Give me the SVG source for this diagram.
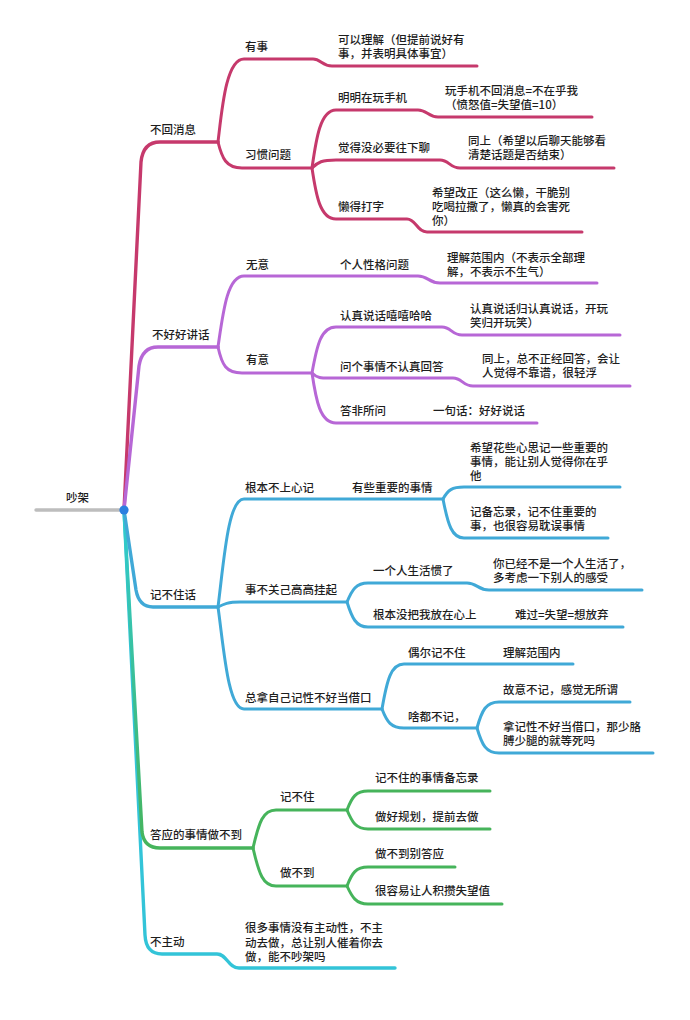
<svg xmlns="http://www.w3.org/2000/svg" width="690" height="1020" viewBox="0 0 690 1020">
<style>
text{font-family:"Noto Sans CJK SC","Noto Sans",sans-serif;font-size:11.5px;font-weight:500;fill:#1e1e1e}
path{fill:none;stroke-linecap:round;stroke-linejoin:round}
.m{stroke-width:3.4}
.s{stroke-width:3}
.r{stroke:#c6396c}
.p{stroke:#b767d6}
.b{stroke:#40a9d7}
.g{stroke:#46b45b}
.c{stroke:#33c4d8}
</style>
<defs>
<linearGradient id="gt" gradientUnits="userSpaceOnUse" x1="0" y1="510" x2="0" y2="848">
<stop offset="0" stop-color="#2fcbd3"/>
<stop offset="1" stop-color="#46b45b"/>
</linearGradient>
</defs>
<rect width="690" height="1020" fill="#ffffff"/>
<g id="connectors">
<path d="M36,510 L124,510" stroke="#bdbdbd" stroke-width="3.4"/>
<path class="m r" d="M124,510 L141,162 Q143,142 160,142 L218,142"/>
<path class="s r" d="M218,142 C222,109 226,59 244,59 L313,59 C321,59 322,66 332,66 L477,66"/>
<path class="s r" d="M218,142 C222,158 226,168 242,168 L312,168"/>
<path class="s r" d="M312,168 C316,140 320,110 336,110 L418,110 C427,110 428,117 438,117 L592,117"/>
<path class="s r" d="M312,168 C318,162 322,160 336,160 L440,160 C449,160 450,168 460,168 L614,168"/>
<path class="s r" d="M312,168 C316,195 320,219 336,219 L407,219 C416,219 417,232 427,232 L582,232"/>
<path class="m p" d="M124,510 L139,366 Q142,347 158,347 L218,347"/>
<path class="s p" d="M218,347 C223,313 227,276 244,276 L418,276 C428,276 429,283 440,283 L597,283"/>
<path class="s p" d="M218,347 C222,365 226,373 242,373 L312,373"/>
<path class="s p" d="M312,373 C317,345 321,327 336,327 L442,327 C451,327 452,335 462,335 L620,335"/>
<path class="s p" d="M312,373 C318,379 322,378 336,378 L453,378 C462,378 463,386 473,386 L630,386"/>
<path class="s p" d="M312,373 C316,400 320,423 336,423 L537,423"/>
<path class="m c" d="M124,510 L145,935 Q146,954 162,954 L217,954 C227,954 228,968 239,968 L395,968"/>
<path class="m" stroke="url(#gt)" d="M124,510 L142,832 Q144,848 160,848 L253,848"/>
<path class="s g" d="M253,848 C259,822 263,810 276,810 L347,810"/>
<path class="s g" d="M347,810 C352,797 356,791 368,791 L490,791"/>
<path class="s g" d="M347,810 C352,822 356,829 368,829 L490,829"/>
<path class="s g" d="M253,848 C259,874 263,886 276,886 L347,886"/>
<path class="s g" d="M347,886 C352,873 356,867 368,867 L455,867"/>
<path class="s g" d="M347,886 C352,897 356,904 368,904 L502,904"/>
<path class="m b" d="M124,510 L136,590 Q139,607 153,607 L218,607"/>
<path class="s b" d="M218,607 C224,560 228,499 244,499 L443,499"/>
<path class="s b" d="M443,499 C448,490 452,487 464,487 L620,487"/>
<path class="s b" d="M443,499 C448,525 452,538 464,538 L608,538"/>
<path class="s b" d="M218,607 C224,604 228,602 240,602 L347,602"/>
<path class="s b" d="M347,602 C352,590 356,583 368,583 L467,583 C477,583 478,590 489,590 L642,590"/>
<path class="s b" d="M347,602 C352,618 356,627 368,627 L623,627"/>
<path class="s b" d="M218,607 C224,650 228,709 244,709 L382,709"/>
<path class="s b" d="M382,709 C387,680 391,664 404,664 L573,664"/>
<path class="s b" d="M382,709 C387,722 391,728 404,728 L477,728"/>
<path class="s b" d="M477,728 C482,710 486,702 499,702 L630,702"/>
<path class="s b" d="M477,728 C482,745 486,753 499,753 L653,753"/>
<circle cx="124" cy="510" r="4.6" fill="#2b7fe0"/>
</g>
<g id="root"><text x="66" y="502">吵架</text></g>
<g id="n-buhuixiaoxi"><text x="150" y="134">不回消息</text></g>
<g id="n-youshi"><text x="245" y="51">有事</text></g>
<g id="n-youshi-1"><text x="338" y="44">可以理解（但提前说好有</text><text x="338" y="58">事，并表明具体事宜）</text></g>
<g id="n-xiguan"><text x="245" y="159">习惯问题</text></g>
<g id="n-wanshouji"><text x="338" y="102">明明在玩手机</text></g>
<g id="n-wanshouji-1"><text x="445" y="95">玩手机不回消息=不在乎我</text><text x="445" y="109">（愤怒值=失望值=10）</text></g>
<g id="n-meibiyao"><text x="338" y="152">觉得没必要往下聊</text></g>
<g id="n-meibiyao-1"><text x="468" y="145">同上（希望以后聊天能够看</text><text x="468" y="159">清楚话题是否结束）</text></g>
<g id="n-landa"><text x="338" y="211">懒得打字</text></g>
<g id="n-landa-1"><text x="432" y="197">希望改正（这么懒，干脆别</text><text x="432" y="211">吃喝拉撒了，懒真的会害死</text><text x="432" y="225">你）</text></g>
<g id="n-buhaohao"><text x="152" y="339">不好好讲话</text></g>
<g id="n-wuyi"><text x="246" y="269">无意</text></g>
<g id="n-xingge"><text x="340" y="269">个人性格问题</text></g>
<g id="n-xingge-1"><text x="447" y="262">理解范围内（不表示全部理</text><text x="447" y="276">解，不表示不生气）</text></g>
<g id="n-youyi"><text x="246" y="364">有意</text></g>
<g id="n-xixi"><text x="340" y="320">认真说话嘻嘻哈哈</text></g>
<g id="n-xixi-1"><text x="470" y="313">认真说话归认真说话，开玩</text><text x="470" y="327">笑归开玩笑）</text></g>
<g id="n-wenge"><text x="340" y="371">问个事情不认真回答</text></g>
<g id="n-wenge-1"><text x="482" y="363">同上，总不正经回答，会让</text><text x="482" y="377">人觉得不靠谱，很轻浮</text></g>
<g id="n-dafei"><text x="340" y="415">答非所问</text></g>
<g id="n-dafei-1"><text x="433" y="415">一句话：好好说话</text></g>
<g id="n-jibuzhuhua"><text x="150" y="599">记不住话</text></g>
<g id="n-genben"><text x="245" y="492">根本不上心记</text></g>
<g id="n-zhongyao"><text x="352" y="492">有些重要的事情</text></g>
<g id="n-zhongyao-1"><text x="470" y="452">希望花些心思记一些重要的</text><text x="470" y="466">事情，能让别人觉得你在乎</text><text x="470" y="480">他</text></g>
<g id="n-zhongyao-2"><text x="470" y="516">记备忘录，记不住重要的</text><text x="470" y="530">事，也很容易耽误事情</text></g>
<g id="n-shibuguan"><text x="245" y="594">事不关己高高挂起</text></g>
<g id="n-yigeren"><text x="373" y="575">一个人生活惯了</text></g>
<g id="n-yigeren-1"><text x="493" y="568">你已经不是一个人生活了，</text><text x="493" y="582">多考虑一下别人的感受</text></g>
<g id="n-meiba"><text x="373" y="619">根本没把我放在心上</text></g>
<g id="n-meiba-1"><text x="515" y="619">难过=失望=想放弃</text></g>
<g id="n-jiekou"><text x="245" y="702">总拿自己记性不好当借口</text></g>
<g id="n-ouer"><text x="408" y="657">偶尔记不住</text></g>
<g id="n-ouer-1"><text x="503" y="657">理解范围内</text></g>
<g id="n-shadou"><text x="408" y="721">啥都不记，</text></g>
<g id="n-guyi"><text x="503" y="694">故意不记，感觉无所谓</text></g>
<g id="n-najixing"><text x="503" y="731">拿记性不好当借口，那少胳</text><text x="503" y="745">膊少腿的就等死吗</text></g>
<g id="n-daying"><text x="150" y="839">答应的事情做不到</text></g>
<g id="n-jibuzhu"><text x="280" y="801">记不住</text></g>
<g id="n-beiwang"><text x="375" y="782">记不住的事情备忘录</text></g>
<g id="n-guihua"><text x="375" y="821">做好规划，提前去做</text></g>
<g id="n-zuobudao"><text x="280" y="877">做不到</text></g>
<g id="n-biedaying"><text x="375" y="858">做不到别答应</text></g>
<g id="n-jicuan"><text x="375" y="895">很容易让人积攒失望值</text></g>
<g id="n-buzhudong"><text x="150" y="946">不主动</text></g>
<g id="n-buzhudong-1"><text x="245" y="932">很多事情没有主动性，不主</text><text x="245" y="947">动去做，总让别人催着你去</text><text x="245" y="961">做，能不吵架吗</text></g>
</svg>
